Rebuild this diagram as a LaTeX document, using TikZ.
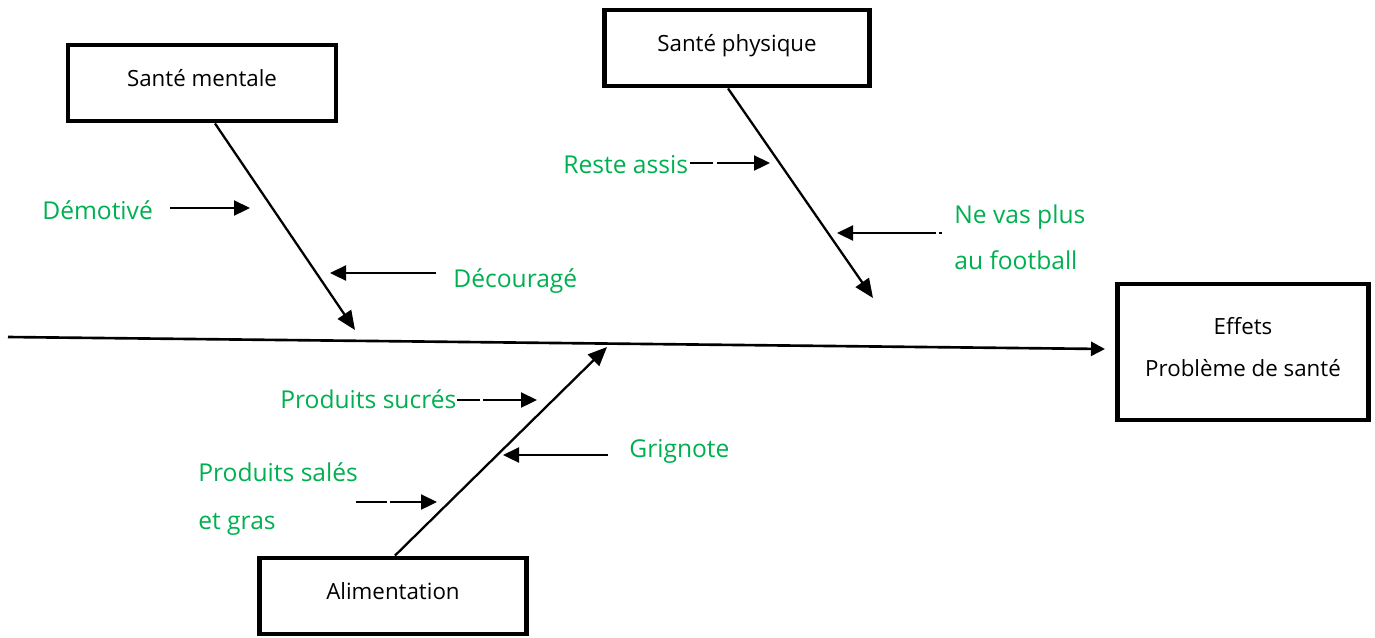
\documentclass[tikz,border=0pt]{standalone}
\usepackage{fontspec}
\setmainfont{Open Sans}
\usepackage{tikz}
\usetikzlibrary{arrows.meta,positioning}
\definecolor{causeGreen}{RGB}{0,176,80}

\begin{document}
\begin{tikzpicture}[x=0.02cm, y=-0.02cm,
    every node/.style={font=\fontsize{12.7}{15}\selectfont, align=center},
    box/.style={draw, line width=2.8pt, minimum width=5.36cm, minimum height=1.52cm, inner sep=0pt,
      text height=0.45cm, text depth=0.3cm},
    lbl/.style={text=causeGreen, font=\fontsize{14}{26}\selectfont, inner sep=0pt,
      anchor=base west, align=left},
    bone/.style={-{Triangle[length=0.38cm, width=0.32cm]}, line width=1.3pt},
    cause/.style={-{Triangle[length=0.32cm, width=0.3cm]}, line width=1.3pt}
  ]
    \useasboundingbox (0,0) rectangle (1375,637);
    % Boxes
    \node[box] (ment) at (202,83) {Santé mentale};
    \node[box, minimum width=5.3cm] (phys) at (737,48) {Santé physique};
    \node[box, minimum width=5.34cm] (alim) at (393,596) {Alimentation};
    \node[box, minimum width=5.02cm, minimum height=2.72cm, text height=, text depth=0.2cm,
      font=\fontsize{12.7}{23.8}\selectfont] (eff) at (1243,352) {Effets\\Problème de santé};
    % Spine
    \coordinate (tail) at (8,337);
    \coordinate (head) at (1105,349);
    \draw[-{Triangle[length=0.28cm, width=0.28cm]}, line width=1.5pt] (tail) -- (head);
    % Bones
    \coordinate (mtip) at (355,330);
    \coordinate (ptip) at (873,298);
    \coordinate (atip) at (607,347);
    \draw[bone] ([xshift=0.26cm]ment.south) -- (mtip);
    \draw[bone] ([xshift=-0.18cm]phys.south) -- (ptip);
    \draw[bone] ([xshift=0.04cm]alim.north) -- (atip);
    % Causes
    \node[lbl] (demo) at (42,219) {Démotivé};
    \node[lbl] (deco) at (453,287) {Découragé};
    \node[lbl] (assis) at (563,173) {Reste assis};
    \node[lbl, anchor=west] (foot) at (954,237) {Ne vas plus\\au football};
    \node[lbl] (sucre) at (280,408) {Produits sucrés};
    \node[lbl, anchor=west, font=\fontsize{14}{27.5}\selectfont] (sale) at (198,499) {Produits salés\\et gras};
    \node[lbl] (grig) at (629,457) {Grignote};
    \coordinate (demoA) at (170,208);  \coordinate (demoB) at (250,208);
    \coordinate (decoA) at (436,273);  \coordinate (decoB) at (330,273);
    \coordinate (assisA) at (690,163); \coordinate (assisB) at (770,163);
    \coordinate (footA) at (942,233);  \coordinate (footB) at (837,233);
    \coordinate (sucreA) at (457,400); \coordinate (sucreB) at (537,400);
    \coordinate (saleA) at (356,502);  \coordinate (saleB) at (437,502);
    \coordinate (grigA) at (608,455);  \coordinate (grigB) at (503,455);
    \draw[cause] (demoA) -- (demoB);
    \draw[cause] (decoA) -- (decoB);
    \draw[cause, dash pattern=on 0.46cm off 0.08cm on 3cm off 0.1cm] (assisA) -- (assisB);
    \draw[cause, dash pattern=on 0.06cm off 0.06cm on 3cm off 0.1cm] (footA) -- (footB);
    \draw[cause, dash pattern=on 0.46cm off 0.06cm on 3cm off 0.1cm] (sucreA) -- (sucreB);
    \draw[cause, dash pattern=on 0.62cm off 0.06cm on 3cm off 0.1cm] (saleA) -- (saleB);
    \draw[cause] (grigA) -- (grigB);
  \end{tikzpicture}
\end{document}
